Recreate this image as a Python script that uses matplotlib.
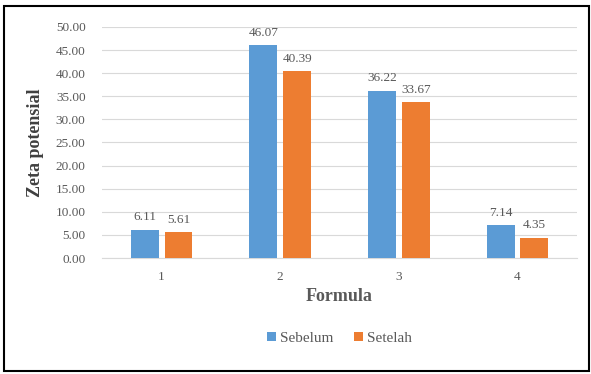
import matplotlib.pyplot as plt
import numpy as np
from matplotlib.patches import Rectangle

plt.rcParams["font.family"] = 'Liberation Serif'

formula = ['1', '2', '3', '4']
sebelum = [6.11, 46.07, 36.22, 7.14]
setelah = [5.61, 40.39, 33.67, 4.35]
y_ticks = [0, 5, 10, 15, 20, 25, 30, 35, 40, 45, 50]

blue = '#5B9BD5'
orange = '#ED7D31'
txt = '#595959'

fig = plt.figure(figsize=(5.91, 3.74), dpi=100)
ax = fig.add_axes([0.173, 0.31, 0.803, 0.618])

x = np.arange(len(formula))
w = 0.235
off = (w + 0.05) / 2
b1 = ax.bar(x - off, sebelum, w, color=blue, label='Sebelum', zorder=3)
b2 = ax.bar(x + off, setelah, w, color=orange, label='Setelah', zorder=3)

for bars, vals in ((b1, sebelum), (b2, setelah)):
    for b, v in zip(bars, vals):
        ax.text(b.get_x() + b.get_width() / 2, v + 1.4, '%.2f' % v,
                ha='center', va='bottom', fontsize=9.5, color=txt)

ax.set_xlim(-0.5, 3.5)
ax.set_ylim(0, 50)
ax.set_yticks(y_ticks)
ax.set_yticklabels(['%.2f' % t for t in y_ticks])
ax.set_xticks(x)
ax.set_xticklabels(formula)
ax.tick_params(axis='both', length=0, labelsize=9.5, labelcolor=txt)
ax.tick_params(axis='y', pad=12)
ax.tick_params(axis='x', pad=9)
ax.grid(axis='y', color='#D9D9D9', linewidth=0.8, zorder=0)
for s in ('top', 'right', 'left'):
    ax.spines[s].set_visible(False)
ax.spines['bottom'].set_color('#D9D9D9')

ax.set_xlabel('Formula', fontsize=13, fontweight='bold', color=txt, labelpad=4)
ax.set_ylabel('Zeta potensial', fontsize=13, fontweight='bold', color='#404040', labelpad=8)

ax.legend(loc='upper center', bbox_to_anchor=(0.5, -0.26), ncol=2, frameon=False,
          prop={'family': 'Liberation Serif', 'size': 11}, labelcolor=txt,
          handlelength=0.55, handleheight=0.55, handletextpad=0.25, columnspacing=1.4)

fig.patches.append(Rectangle((4 / 591, 3 / 374), 585 / 591, 365 / 374,
                             transform=fig.transFigure, fill=False,
                             edgecolor='black', linewidth=1.5))

plt.savefig('out.png', dpi=100)
